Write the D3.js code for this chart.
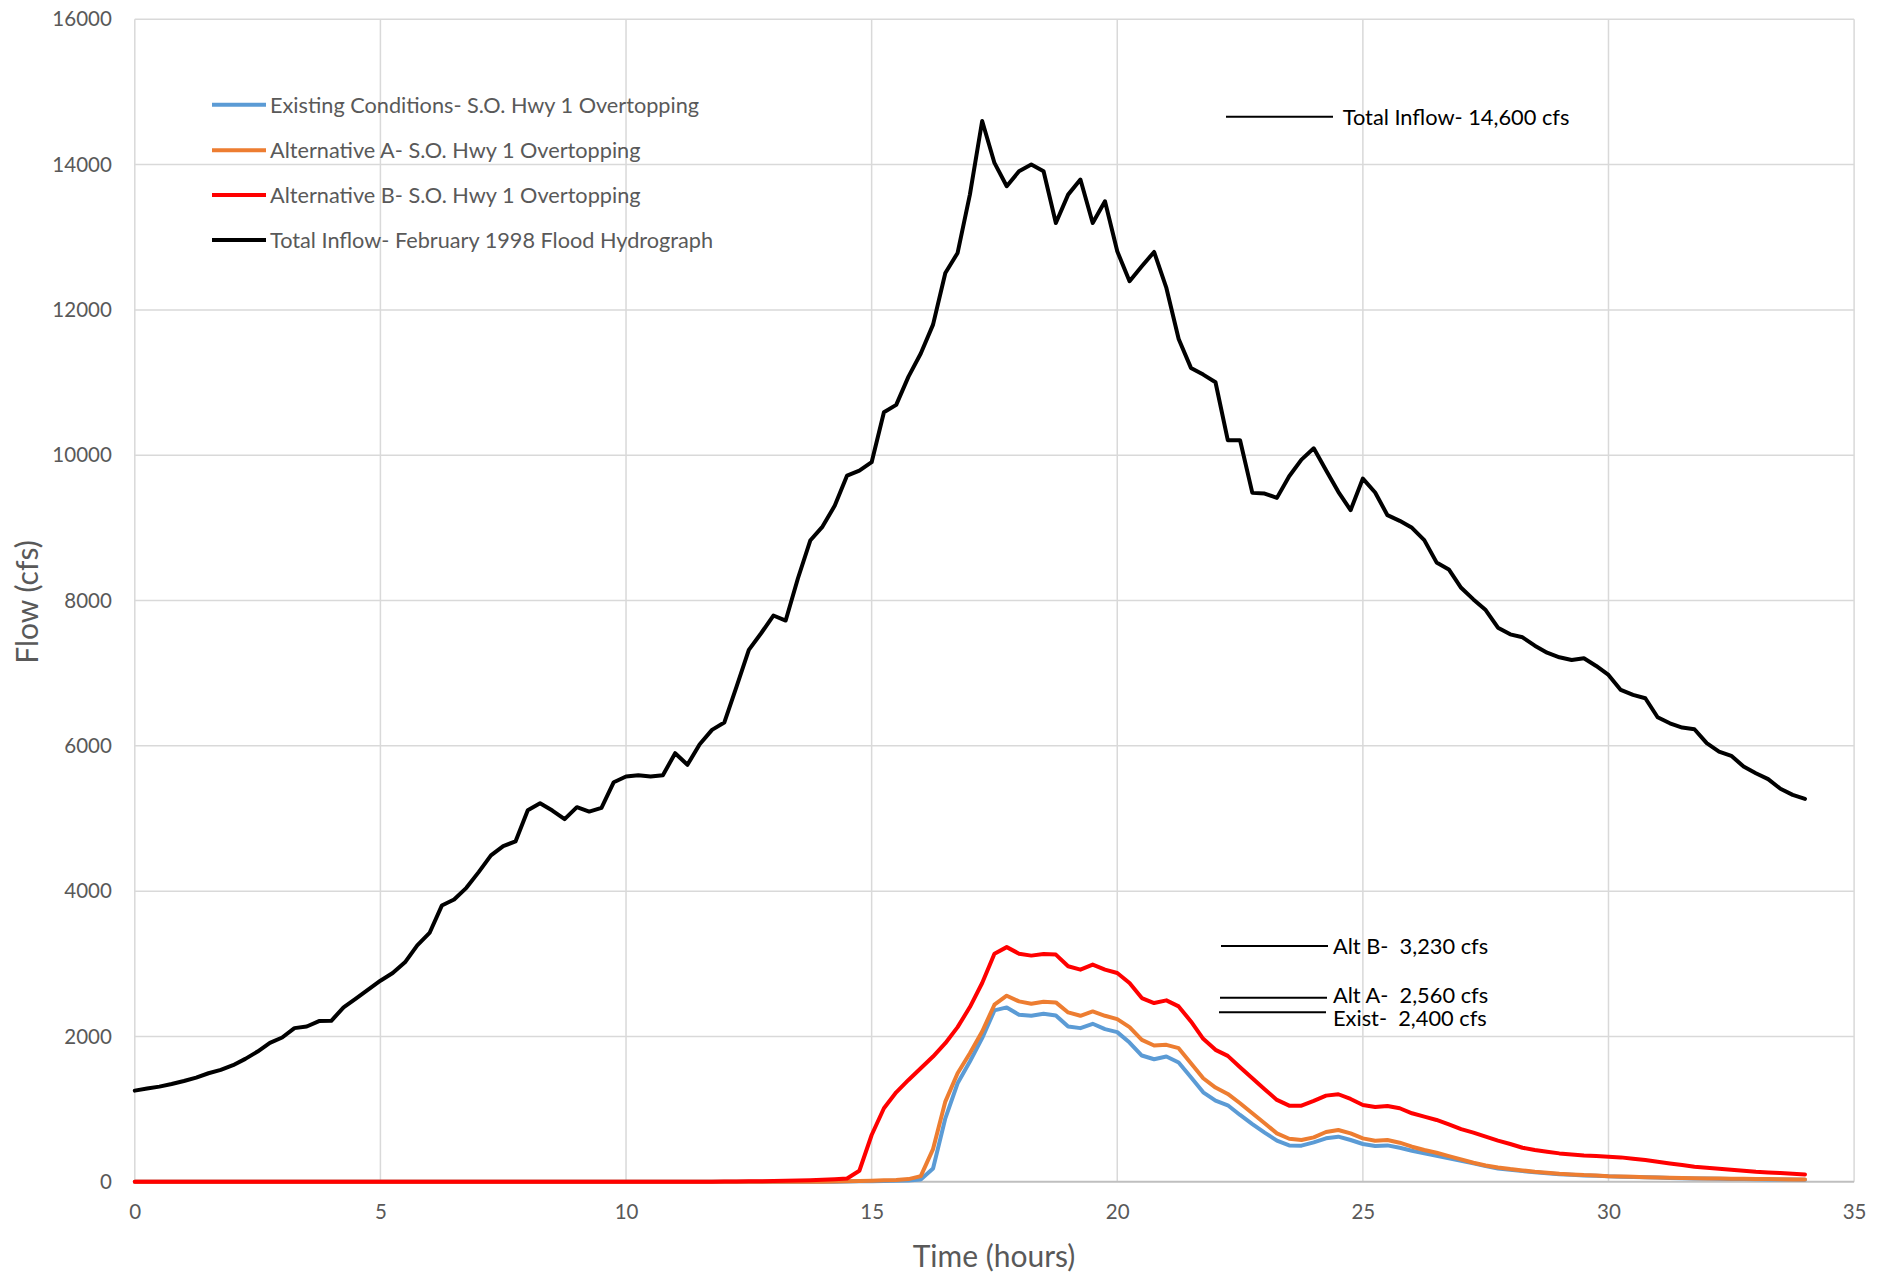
<!DOCTYPE html>
<html><head><meta charset="utf-8">
<script src="https://cdn.jsdelivr.net/npm/d3@7"></script>
<style>
body{margin:0;background:#fff;}
svg{display:block;}
text{font-family:Lato,"Open Sans",sans-serif;}
</style></head><body>
<svg id="chart" width="1887" height="1274"></svg>
<script>
// Time (hours), quarter-hour steps
const time = [
0,0.25,0.5,0.75, 1,1.25,1.5,1.75, 2,2.25,2.5,2.75, 3,3.25,3.5,3.75,
4,4.25,4.5,4.75, 5,5.25,5.5,5.75, 6,6.25,6.5,6.75, 7,7.25,7.5,7.75,
8,8.25,8.5,8.75, 9,9.25,9.5,9.75, 10,10.25,10.5,10.75, 11,11.25,11.5,11.75,
12,12.25,12.5,12.75, 13,13.25,13.5,13.75, 14,14.25,14.5,14.75, 15,15.25,15.5,15.75,
16,16.25,16.5,16.75, 17,17.25,17.5,17.75, 18,18.25,18.5,18.75, 19,19.25,19.5,19.75,
20,20.25,20.5,20.75, 21,21.25,21.5,21.75, 22,22.25,22.5,22.75, 23,23.25,23.5,23.75,
24,24.25,24.5,24.75, 25,25.25,25.5,25.75, 26,26.25,26.5,26.75, 27,27.25,27.5,27.75,
28,28.25,28.5,28.75, 29,29.25,29.5,29.75, 30,30.25,30.5,30.75, 31,31.25,31.5,31.75,
32,32.25,32.5,32.75, 33,33.25,33.5,33.75, 34];

const existing = [
0,0,0,0, 0,0,0,0, 0,0,0,0, 0,0,0,0,
0,0,0,0, 0,0,0,0, 0,0,0,0, 0,0,0,0,
0,0,0,0, 0,0,0,0, 0,0,0,0, 0,0,0,0,
0,0,0,0, 0,0,0,0, 0,2,4,6, 9,12,15,18,
32,184,874,1356, 1655,1977,2359,2400, 2299,2285,2313,2290, 2138,2115,2175,2101,
2060,1917,1738,1687, 1724,1641,1439,1232, 1117,1053,920,795, 676,566,501,497,
543,598,621,575, 520,492,501,469, 428,391,359,322, 290,253,216,184,
166,147,131,118, 105,96,88,83, 75,71,66,62, 58,53,50,47,
44,41,39,37, 35,33,31,30, 29];

const altA = [
0,0,0,0, 0,0,0,0, 0,0,0,0, 0,0,0,0,
0,0,0,0, 0,0,0,0, 0,0,0,0, 0,0,0,0,
0,0,0,0, 0,0,0,0, 0,0,0,0, 0,0,0,0,
0,0,0,0, 0,0,0,0, 2,4,7,11, 15,20,25,37,
78,450,1104,1494, 1770,2069,2437,2561, 2483,2451,2478,2469, 2331,2285,2345,2285,
2239,2129,1954,1876, 1885,1839,1632,1425, 1297,1209,1081,943, 805,667,593,575,
612,685,713,667, 598,566,575,538, 483,437,400,354, 308,262,225,198,
175,156,138,124, 110,101,92,87, 78,74,69,64, 60,56,53,50,
47,45,43,41, 39,37,35,33, 32];

const altB = [
0,0,0,0, 0,0,0,0, 0,0,0,0, 0,0,0,0,
0,0,0,0, 0,0,0,0, 0,0,0,0, 0,0,0,0,
0,0,0,0, 0,0,0,0, 0,0,0,0, 0,0,1,2,
3,4,6,8, 10,13,17,22, 28,36,46,152, 644,1012,1232,1402,
1563,1724,1908,2129, 2405,2736,3140,3230, 3140,3113,3136,3127, 2966,2920,2989,2920,
2874,2736,2529,2460, 2497,2414,2207,1968, 1816,1733,1577,1425, 1274,1127,1048,1048,
1113,1186,1205,1140, 1058,1030,1044,1012, 943,897,851,791, 726,676,621,566,
520,469,437,414, 391,377,363,354, 345,336,317,299, 276,253,230,207,
193,179,166,152, 138,129,120,110, 101];

const totalInflow = [
1255,1283,1310,1347, 1388,1434,1494,1540, 1605,1692,1793,1913, 1986,2115,2138,2212,
2216,2400,2520,2644, 2768,2874,3021,3255, 3425,3802,3885,4046, 4262,4492,4621,4685,
5115,5211,5110,4991, 5156,5096,5147,5500, 5578,5596,5578,5596, 5899,5739,6023,6220,
6321,6816,7321,7550, 7794,7725,8307,8826, 9018,9307,9720,9789, 9904,10592,10693,11082,
11400,11798,12509,12784, 13587,14600,14023,13702, 13908,14000,13908,13197, 13587,13794,13197,13495,
12807,12395,12601,12798, 12303,11601,11202,11110, 11005,10207,10207,9482, 9473,9413,9711,9940,
10096,9794,9496,9244, 9679,9487,9175,9097, 9001,8832,8525,8428, 8176,8016,7869,7627,
7535,7494,7379,7283, 7219,7182,7205,7100, 6976,6770,6701,6655, 6394,6311,6252,6229,
6037,5922,5863,5716, 5624,5542,5409,5326, 5271];

const seriesNames = [
  "Existing Conditions- S.O. Hwy 1 Overtopping",
  "Alternative A- S.O. Hwy 1 Overtopping",
  "Alternative B- S.O. Hwy 1 Overtopping",
  "Total Inflow- February 1998 Flood Hydrograph"];
const seriesColors = ["#5b9bd5", "#ed7d31", "#ff0000", "#000000"];

const xTicks = [0, 5, 10, 15, 20, 25, 30, 35];
const yTicks = [0, 2000, 4000, 6000, 8000, 10000, 12000, 14000, 16000];

const annoLabels = ["Total Inflow- 14,600 cfs", "Alt B-  3,230 cfs", "Alt A-  2,560 cfs", "Exist-  2,400 cfs"];

const svg = d3.select("#chart");
const x = d3.scaleLinear().domain([0, 35]).range([134.8, 1854.1]);
const y = d3.scaleLinear().domain([0, 16000]).range([1181.8, 19.3]);

// gridlines
const grid = svg.append("g");
grid.selectAll("line.v").data(xTicks).join("line")
  .attr("x1", d => x(d)).attr("x2", d => x(d))
  .attr("y1", y(0)).attr("y2", y(16000))
  .attr("stroke", "#d9d9d9").attr("stroke-width", 1.5);
grid.selectAll("line.h").data(yTicks.filter(d => d > 0)).join("line")
  .attr("x1", x(0)).attr("x2", x(35))
  .attr("y1", d => y(d)).attr("y2", d => y(d))
  .attr("stroke", "#d9d9d9").attr("stroke-width", 1.5);
svg.append("line").attr("x1", x(0)).attr("x2", x(35)).attr("y1", y(0)).attr("y2", y(0))
  .attr("stroke", "#bfbfbf").attr("stroke-width", 2);

// axes
const gx = svg.append("g").attr("transform", `translate(0,${y(0)})`)
  .call(d3.axisBottom(x).tickValues(xTicks).tickSize(0).tickPadding(23).tickFormat(d3.format("d")));
const gy = svg.append("g").attr("transform", `translate(${x(0)},0)`)
  .call(d3.axisLeft(y).tickValues(yTicks).tickSize(0).tickPadding(23).tickFormat(d3.format("d")));
[gx, gy].forEach(g => {
  g.select(".domain").remove();
  g.selectAll("text").attr("fill", "#595959").style("font-size", "20.5px").style("font-family", "Lato");
});

// axis titles
svg.append("text").attr("x", 994).attr("y", 1255).attr("text-anchor", "middle")
  .attr("dominant-baseline", "central").attr("fill", "#595959").style("font-size", "30px")
  .text("Time (hours)");
svg.append("text").attr("transform", "translate(26,602) rotate(-90)").attr("text-anchor", "middle")
  .attr("dominant-baseline", "central").attr("fill", "#595959").style("font-size", "30px")
  .text("Flow (cfs)");

// series
const seriesData = [existing, altA, altB, totalInflow];
const line = d3.line().x((d, i) => x(time[i])).y(d => y(d));
svg.append("g").selectAll("path").data(seriesData).join("path")
  .attr("d", d => line(d)).attr("fill", "none")
  .attr("stroke", (d, i) => seriesColors[i]).attr("stroke-width", 4)
  .attr("stroke-linejoin", "round").attr("stroke-linecap", "round");

// legend
const legendY = [104.7, 150.3, 195, 240];
const lg = svg.append("g");
seriesNames.forEach((name, i) => {
  lg.append("line").attr("x1", 212).attr("x2", 266).attr("y1", legendY[i]).attr("y2", legendY[i])
    .attr("stroke", seriesColors[i]).attr("stroke-width", 4);
  lg.append("text").attr("x", 270).attr("y", legendY[i]).attr("dominant-baseline", "central")
    .attr("fill", "#595959").style("font-size", "21.7px").text(name);
});

// annotations
const annoLine = [[1226, 1333, 116.7], [1221, 1328, 946], [1220, 1327, 997.7], [1219, 1326, 1012.3]];
const annoTextY = [116, 945, 994, 1017.5];
const annoTextX = [1342.7, 1333, 1333, 1333];
annoLabels.forEach((t, i) => {
  svg.append("line").attr("x1", annoLine[i][0]).attr("x2", annoLine[i][1])
    .attr("y1", annoLine[i][2]).attr("y2", annoLine[i][2]).attr("stroke", "#000").attr("stroke-width", 2);
  svg.append("text").attr("x", annoTextX[i]).attr("y", annoTextY[i]).attr("dominant-baseline", "central")
    .attr("fill", "#000").style("font-size", "21.8px").style("white-space", "pre").text(t);
});
</script>
</body></html>
